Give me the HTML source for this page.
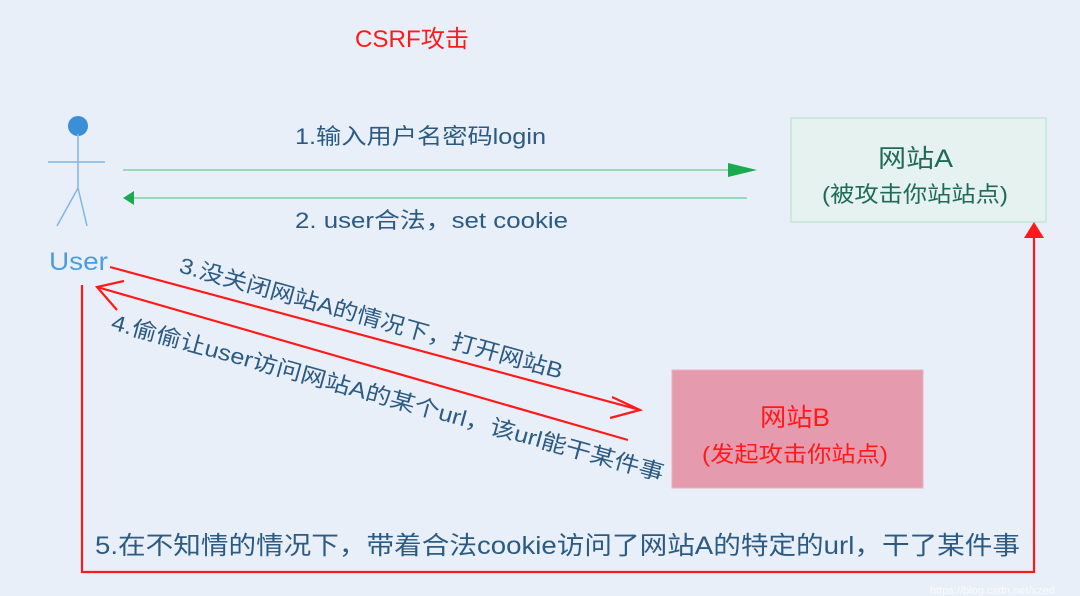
<!DOCTYPE html>
<html><head><meta charset="utf-8"><style>
html,body{margin:0;padding:0;}
body{width:1080px;height:596px;background:#e9eff9;overflow:hidden;position:relative;font-family:"Liberation Sans","Noto Sans CJK SC",sans-serif;}
svg{position:absolute;left:0;top:0;}
</style></head><body>
<svg width="1080" height="596" viewBox="0 0 1080 596" font-family="Liberation Sans, Noto Sans CJK SC, sans-serif">
<text x="355" y="47" font-size="24" fill="#ff1a1a" textLength="114" lengthAdjust="spacingAndGlyphs">CSRF攻击</text>
<circle cx="78" cy="126" r="10" fill="#3a8fd6"/>
<g stroke="#7fb6e6" stroke-width="1.5" fill="none">
<line x1="78" y1="134" x2="78" y2="188"/>
<line x1="48" y1="162" x2="105" y2="162"/>
<line x1="78" y1="188" x2="57" y2="226"/>
<line x1="78" y1="188" x2="87" y2="226"/>
</g>
<text x="49" y="270" font-size="25" fill="#4a9ee0" textLength="59" lengthAdjust="spacingAndGlyphs">User</text>
<rect x="791" y="118" width="255" height="104" fill="#e6f2ef" stroke="#c3e6d8" stroke-width="1.5"/>
<text x="878" y="167" font-size="25" fill="#1f6b57" textLength="75" lengthAdjust="spacingAndGlyphs">网站A</text>
<text x="822" y="202" font-size="22" fill="#1f6b57" textLength="186" lengthAdjust="spacingAndGlyphs">(被攻击你站站点)</text>
<rect x="672" y="370" width="251" height="118" fill="#e59aad" stroke="#eab0bd" stroke-width="1"/>
<text x="760" y="426" font-size="25" fill="#ff1a1a" textLength="70" lengthAdjust="spacingAndGlyphs">网站B</text>
<text x="702" y="462" font-size="22" fill="#ff1a1a" textLength="186" lengthAdjust="spacingAndGlyphs">(发起攻击你站点)</text>
<line x1="123" y1="170" x2="732" y2="170" stroke="#7fd0a4" stroke-width="1.5"/>
<polygon points="728,163 757,170 728,177" fill="#1aaa4f"/>
<line x1="134" y1="198" x2="747" y2="198" stroke="#7fd0a4" stroke-width="1.5"/>
<polygon points="123,198 134,191 134,205" fill="#1aaa4f"/>
<text x="295" y="144" font-size="22" fill="#2b5a82" textLength="251" lengthAdjust="spacingAndGlyphs">1.输入用户名密码login</text>
<text x="295" y="228" font-size="22" fill="#2b5a82" textLength="273" lengthAdjust="spacingAndGlyphs">2. user合法，set cookie</text>
<g stroke="#ff1a1a" stroke-width="2.2" fill="none">
<line x1="110" y1="267" x2="640" y2="410"/>
<polyline points="612,397 640,410 610,418"/>
<line x1="628" y1="440" x2="97" y2="287"/>
<polyline points="124,281 97,287 117,310"/>
<polyline points="82,285 82,572 1034,572 1034,236"/>
</g>
<polygon points="1034,222 1024,238 1044,238" fill="#ff1a1a"/>
<text x="0" y="0" font-size="22" fill="#2b5a82" transform="translate(178,272) rotate(15.6)" textLength="397" lengthAdjust="spacingAndGlyphs">3.没关闭网站A的情况下，打开网站B</text>
<text x="0" y="0" font-size="22" fill="#2b5a82" transform="translate(110,329) rotate(15.4)" textLength="572" lengthAdjust="spacingAndGlyphs">4.偷偷让user访问网站A的某个url，该url能干某件事</text>
<text x="95" y="554" font-size="25" fill="#2b5a82" textLength="925" lengthAdjust="spacingAndGlyphs">5.在不知情的情况下，带着合法cookie访问了网站A的特定的url，干了某件事</text>
<text x="930" y="594" font-size="11" fill="#ffffff" opacity="0.7">https://blog.csdn.net/xzed</text>
</svg>
</body></html>
